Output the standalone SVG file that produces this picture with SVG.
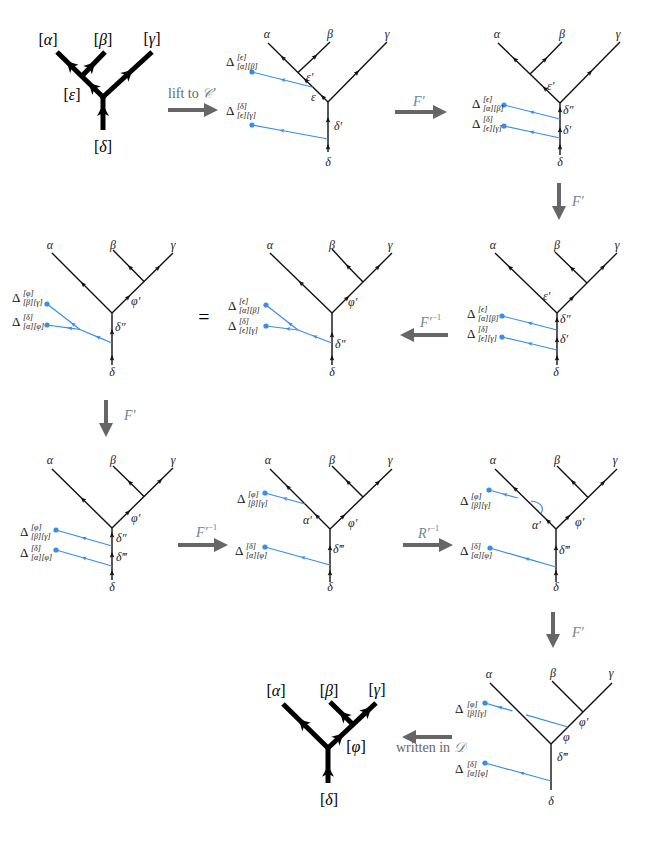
<svg xmlns="http://www.w3.org/2000/svg" width="665" height="856" viewBox="0 0 665 856">
<style>
.k{fill:none;stroke:#111;stroke-width:1.4}
.km{fill:none;stroke:#111;stroke-width:1.4;marker-mid:url(#ma)}
.kt{fill:none;stroke:#000;stroke-width:5;marker-mid:url(#mt)}
.b{fill:none;stroke:#3b8de6;stroke-width:1.2}
.bm{fill:none;stroke:#3b8de6;stroke-width:1.2;marker-mid:url(#mb)}
.dot{fill:#3b8de6}
.g{font-family:'Liberation Serif','DejaVu Serif',serif;font-style:italic;font-size:12px;fill:#222}
.c{text-anchor:middle}
.tl{font-family:'Liberation Serif','DejaVu Serif',serif;font-size:16px;text-anchor:middle;fill:#000}
.tl tspan{font-style:italic}
.d{font-family:'Liberation Serif','DejaVu Serif',serif;font-size:13px;fill:#111}
.s{font-size:8px;font-style:italic}
.ar{fill:#666}
.lab{font-family:'Liberation Serif','DejaVu Serif',serif;font-size:14px;fill:#6b8796;font-style:italic}
.gray{fill:#666;font-style:normal}
.sup{font-size:9px;font-style:normal}
</style>
<defs>
<marker id="ma" viewBox="-4 -4 8 8" markerWidth="8" markerHeight="8" markerUnits="userSpaceOnUse" orient="auto" refX="0" refY="0"><path d="M3,0 L-2.5,-2.3 L-1.5,0 L-2.5,2.3 Z" fill="#111"/></marker>
<marker id="mb" viewBox="-4 -4 8 8" markerWidth="8" markerHeight="8" markerUnits="userSpaceOnUse" orient="auto" refX="0" refY="0"><path d="M2.5,0 L-2.2,-2 L-1.3,0 L-2.2,2 Z" fill="#3b8de6"/></marker>
<marker id="mt" viewBox="-8 -8 16 16" markerWidth="16" markerHeight="16" markerUnits="userSpaceOnUse" orient="auto" refX="0" refY="0"><path d="M6,0 L-5,-6 L-2,0 L-5,6 Z" fill="#000"/></marker>
</defs>
<rect width="665" height="856" fill="#fff"/>

<g id="connectors">
<path class="ar" d="M168,108 L204,108 L204,103 L218,110 L204,117 L204,112 L168,112 Z"/>
<text class="lab" x="168" y="98"><tspan class="gray">lift to </tspan>𝒞′</text>
<path class="ar" d="M395,110 L433,110 L433,105 L447,112 L433,119 L433,114 L395,114 Z"/>
<text class="lab" x="413" y="106">F′</text>
<path class="ar" d="M557,183 L557,206 L552,206 L559,220 L566,206 L561,206 L561,183 Z"/>
<text class="lab" x="572" y="206">F′</text>
<path class="ar" d="M448,333 L414,333 L414,328 L400,335 L414,342 L414,337 L448,337 Z"/>
<text class="lab" x="420" y="327">F′<tspan class="sup" dy="-7">−1</tspan></text>
<path class="ar" d="M104,400 L104,423 L99,423 L106,437 L113,423 L108,423 L108,400 Z"/>
<text class="lab" x="124" y="420">F′</text>
<path class="ar" d="M178,543 L214,543 L214,538 L228,545 L214,552 L214,547 L178,547 Z"/>
<text class="lab" x="196" y="537">F′<tspan class="sup" dy="-7">−1</tspan></text>
<path class="ar" d="M403,543 L439,543 L439,538 L453,545 L439,552 L439,547 L403,547 Z"/>
<text class="lab" x="418" y="538">R′<tspan class="sup" dy="-7">−1</tspan></text>
<path class="ar" d="M551,612 L551,634 L546,634 L553,648 L560,634 L555,634 L555,612 Z"/>
<text class="lab" x="572" y="637">F′</text>
<path class="ar" d="M452,735 L416,735 L416,730 L402,737 L416,744 L416,739 L452,739 Z"/>
<text class="lab" x="396" y="752"><tspan class="gray">written in </tspan>𝒟</text>
<text class="tl" x="204" y="324" style="font-size:20px">=</text>
</g>

<g id="panel1">
<path class="kt" d="M103,97 L93,87.2 L70.8,65.5 L57,52"/>
<path class="kt" d="M82,76 L91,66.6 L105,52"/>
<path class="kt" d="M103,97 L128,74 L152,52"/>
<path class="kt" d="M103,130 L103,111 L103,97"/>
<circle cx="103" cy="97" r="2.5"/>
<text class="tl" x="48" y="45">[<tspan>α</tspan>]</text>
<text class="tl" x="103" y="45">[<tspan>β</tspan>]</text>
<text class="tl" x="152" y="44">[<tspan>γ</tspan>]</text>
<text class="tl" x="72" y="100">[<tspan>ε</tspan>]</text>
<text class="tl" x="103" y="152">[<tspan>δ</tspan>]</text>
</g>

<g id="panel2">
<path class="km" d="M328,102 L323,97.1 L306,80.4 L283,57.8 L268,43"/>
<path class="km" d="M298,72.5 L315,56.5 L330,42"/>
<path class="km" d="M328,102 L357,72.5 L387,42"/>
<path class="km" d="M328,152 L328,147 L328,120 L328,102"/>
<path class="bm" d="M313,87.25 L283,79.75 L252,72"/>
<path class="bm" d="M328,139 L282,130.5 L252,125"/>
<circle class="dot" cx="252" cy="72" r="2.6"/>
<circle class="dot" cx="252" cy="125" r="2.6"/>
<text class="g c" x="267" y="38">α</text>
<text class="g c" x="330" y="38">β</text>
<text class="g c" x="387" y="38">γ</text>
<text class="g" x="306" y="81">ε′</text>
<text class="g" x="311" y="101">ε</text>
<text class="g" x="334" y="130">δ′</text>
<text class="g c" x="328" y="166">δ</text>
<text class="d" x="226" y="66">Δ<tspan class="s" x="237" y="59.5">[ϵ]</tspan><tspan class="s" x="237" y="69">[α][β]</tspan></text>
<text class="d" x="226" y="115">Δ<tspan class="s" x="237" y="108.5">[δ]</tspan><tspan class="s" x="237" y="118">[ϵ][γ]</tspan></text>
</g>

<g id="panel3">
<path class="km" d="M560,103 L545,88.5 L515,59.4 L498,43"/>
<path class="km" d="M530,74 L545,59.5 L562,42"/>
<path class="km" d="M560,103 L590,72.5 L620,42"/>
<path class="km" d="M560,155 L560,147 L560,130 L560,110 L560,103"/>
<path class="bm" d="M560,119 L532,112 L504,105"/>
<path class="bm" d="M560,138 L532,132 L504,126"/>
<circle class="dot" cx="504" cy="105" r="2.6"/>
<circle class="dot" cx="504" cy="126" r="2.6"/>
<text class="g c" x="497" y="38">α</text>
<text class="g c" x="562" y="38">β</text>
<text class="g c" x="618" y="38">γ</text>
<text class="g" x="547" y="90">ε′</text>
<text class="g" x="563" y="114">δ″</text>
<text class="g" x="563" y="134">δ′</text>
<text class="g c" x="560" y="166">δ</text>
<text class="d" x="472" y="108">Δ<tspan class="s" x="483" y="101.5">[ϵ]</tspan><tspan class="s" x="483" y="111">[α][β]</tspan></text>
<text class="d" x="472" y="128">Δ<tspan class="s" x="483" y="121.5">[δ]</tspan><tspan class="s" x="483" y="131">[ϵ][γ]</tspan></text>
</g>

<g id="panel4">
<path class="km" d="M112,313 L83,284 L52,253"/>
<path class="km" d="M144,281.5 L130,267.3 L113,250"/>
<path class="km" d="M112,313 L128,297.3 L158,267.8 L173,253"/>
<path class="km" d="M112,365 L112,358 L112,332 L112,313"/>
<path class="bm" d="M80,329.5 L73,324.1 L47,304"/>
<path class="bm" d="M80,329.5 L70,328.1 L47,325"/>
<path class="bm" d="M112,343 L98,337.1 L80,329.5"/>
<circle class="dot" cx="47" cy="304" r="2.6"/>
<circle class="dot" cx="47" cy="325" r="2.6"/>
<text class="g c" x="50" y="249">α</text>
<text class="g c" x="113" y="249">β</text>
<text class="g c" x="173" y="249">γ</text>
<text class="g" x="131" y="305">φ′</text>
<text class="g" x="115" y="331">δ″</text>
<text class="g c" x="112" y="376">δ</text>
<text class="d" x="12" y="302">Δ<tspan class="s" x="23" y="295.5">[φ]</tspan><tspan class="s" x="23" y="305">[β][γ]</tspan></text>
<text class="d" x="12" y="326">Δ<tspan class="s" x="23" y="319.5">[δ]</tspan><tspan class="s" x="23" y="329">[α][φ]</tspan></text>
</g>

<g id="panel5">
<path class="km" d="M332,313 L301,283 L270,253"/>
<path class="km" d="M363,282 L348,266.5 L332,249"/>
<path class="km" d="M332,313 L347,298 L378,267 L392,253"/>
<path class="km" d="M332,365 L332,358 L332,335 L332,313"/>
<path class="bm" d="M298,330 L290,323.75 L266,305"/>
<path class="bm" d="M298,330 L288,328.75 L266,326"/>
<path class="bm" d="M332,343 L315,336.5 L298,330"/>
<circle class="dot" cx="266" cy="305" r="2.6"/>
<circle class="dot" cx="266" cy="326" r="2.6"/>
<text class="g c" x="270" y="249">α</text>
<text class="g c" x="332" y="249">β</text>
<text class="g c" x="390" y="249">γ</text>
<text class="g" x="348" y="306">φ′</text>
<text class="g" x="335" y="348">δ″</text>
<text class="g c" x="332" y="376">δ</text>
<text class="d" x="228" y="310">Δ<tspan class="s" x="239" y="303.5">[ϵ]</tspan><tspan class="s" x="239" y="313">[α][β]</tspan></text>
<text class="d" x="228" y="330">Δ<tspan class="s" x="239" y="323.5">[δ]</tspan><tspan class="s" x="239" y="333">[ϵ][γ]</tspan></text>
</g>

<g id="panel6">
<path class="km" d="M557,313 L510,267.5 L495,253"/>
<path class="km" d="M587,283 L572,268.5 L555,252"/>
<path class="km" d="M557,313 L572,298 L603,267 L617,253"/>
<path class="km" d="M557,365 L557,358 L557,340 L557,320 L557,313"/>
<path class="bm" d="M557,330 L530,323 L502,316"/>
<path class="bm" d="M557,350 L530,343.5 L502,337"/>
<circle class="dot" cx="502" cy="316" r="2.6"/>
<circle class="dot" cx="502" cy="337" r="2.6"/>
<text class="g c" x="493" y="249">α</text>
<text class="g c" x="557" y="249">β</text>
<text class="g c" x="617" y="249">γ</text>
<text class="g" x="543" y="300">ε′</text>
<text class="g" x="560" y="323">δ″</text>
<text class="g" x="560" y="343">δ′</text>
<text class="g c" x="556" y="376">δ</text>
<text class="d" x="467" y="318">Δ<tspan class="s" x="478" y="311.5">[ϵ]</tspan><tspan class="s" x="478" y="321">[α][β]</tspan></text>
<text class="d" x="467" y="338">Δ<tspan class="s" x="478" y="331.5">[δ]</tspan><tspan class="s" x="478" y="341">[ϵ][γ]</tspan></text>
</g>

<g id="panel7">
<path class="km" d="M112,528 L83,499.5 L52,469"/>
<path class="km" d="M144,496.5 L130,482.5 L113,466"/>
<path class="km" d="M112,528 L128,512.3 L160,480.8 L173,468"/>
<path class="km" d="M112,580 L112,573 L112,555 L112,535 L112,528"/>
<path class="bm" d="M112,546 L84,538 L56,530"/>
<path class="bm" d="M112,566 L84,558 L56,550"/>
<circle class="dot" cx="56" cy="530" r="2.6"/>
<circle class="dot" cx="56" cy="550" r="2.6"/>
<text class="g c" x="50" y="464">α</text>
<text class="g c" x="113" y="464">β</text>
<text class="g c" x="173" y="464">γ</text>
<text class="g" x="131" y="522">φ′</text>
<text class="g" x="116" y="542">δ″</text>
<text class="g" x="116" y="561">δ‴</text>
<text class="g c" x="112" y="591">δ</text>
<text class="d" x="20" y="536">Δ<tspan class="s" x="31" y="529.5">[φ]</tspan><tspan class="s" x="31" y="539">[β][γ]</tspan></text>
<text class="d" x="20" y="557">Δ<tspan class="s" x="31" y="550.5">[δ]</tspan><tspan class="s" x="31" y="560">[α][φ]</tspan></text>
</g>

<g id="panel8">
<path class="km" d="M330,529 L317,516 L288,487 L270,469"/>
<path class="km" d="M363,497 L348,482 L332,466"/>
<path class="km" d="M330,529 L343,516.4 L378,482.5 L392,469"/>
<path class="km" d="M330,582 L330,573 L330,548 L330,529"/>
<path class="bm" d="M305,504 L285,498.5 L265,493"/>
<path class="bm" d="M330,565 L303,557.5 L265,547"/>
<circle class="dot" cx="265" cy="493" r="2.6"/>
<circle class="dot" cx="265" cy="547" r="2.6"/>
<text class="g c" x="268" y="464">α</text>
<text class="g c" x="332" y="464">β</text>
<text class="g c" x="390" y="464">γ</text>
<text class="g" x="303" y="524">α′</text>
<text class="g" x="348" y="527">φ′</text>
<text class="g" x="333" y="553">δ‴</text>
<text class="g c" x="330" y="591">δ</text>
<text class="d" x="237" y="503">Δ<tspan class="s" x="248" y="496.5">[φ]</tspan><tspan class="s" x="248" y="506">[β][γ]</tspan></text>
<text class="d" x="235" y="555">Δ<tspan class="s" x="246" y="548.5">[δ]</tspan><tspan class="s" x="246" y="558">[α][φ]</tspan></text>
</g>

<g id="panel9">
<path class="km" d="M556,529 L548,521 L515,488.7 L495,469"/>
<path class="km" d="M588,497.5 L573,482 L557,466"/>
<path class="km" d="M556,529 L568,517.2 L603,482.8 L617,469"/>
<path class="km" d="M556,582 L556,573 L556,548 L556,529"/>
<path class="bm" d="M518,498 L505,494.5 L489,490"/>
<path class="b" d="M531,501 C540,502 545,507 541,513.5"/>
<path class="bm" d="M556,567 L527,558.7 L490,548"/>
<circle class="dot" cx="489" cy="490" r="2.6"/>
<circle class="dot" cx="490" cy="548" r="2.6"/>
<text class="g c" x="493" y="464">α</text>
<text class="g c" x="557" y="464">β</text>
<text class="g c" x="615" y="464">γ</text>
<text class="g" x="532" y="529">α′</text>
<text class="g" x="575" y="526">φ′</text>
<text class="g" x="559" y="554">δ‴</text>
<text class="g c" x="556" y="591">δ</text>
<text class="d" x="460" y="505">Δ<tspan class="s" x="471" y="498.5">[φ]</tspan><tspan class="s" x="471" y="508">[β][γ]</tspan></text>
<text class="d" x="460" y="555">Δ<tspan class="s" x="471" y="548.5">[δ]</tspan><tspan class="s" x="471" y="558">[α][φ]</tspan></text>
</g>

<g id="panel10">
<path class="k" d="M551,744 L490,683"/>
<path class="k" d="M583,712 L552,681"/>
<path class="k" d="M551,744 L612,683"/>
<path class="k" d="M551,790 L551,744"/>
<path class="bm" d="M512.5,710.9 L500,707.3 L485,703"/>
<path class="b" d="M526,714.9 L568,727"/>
<path class="bm" d="M551,781 L522,773 L485,763"/>
<circle class="dot" cx="485" cy="703" r="2.6"/>
<circle class="dot" cx="485" cy="763" r="2.6"/>
<text class="g c" x="489" y="678">α</text>
<text class="g c" x="553" y="677">β</text>
<text class="g c" x="611" y="677">γ</text>
<text class="g" x="579" y="726">φ′</text>
<text class="g" x="563" y="741">φ</text>
<text class="g" x="557" y="761">δ‴</text>
<text class="g c" x="551" y="805">δ</text>
<text class="d" x="455" y="713">Δ<tspan class="s" x="467" y="706.5">[φ]</tspan><tspan class="s" x="467" y="716">[β][γ]</tspan></text>
<text class="d" x="455" y="773">Δ<tspan class="s" x="467" y="766.5">[δ]</tspan><tspan class="s" x="467" y="776">[α][φ]</tspan></text>
</g>

<g id="panel11">
<path class="kt" d="M328,748 L303,723.5 L283,704"/>
<path class="kt" d="M353,724.5 L344,715.7 L330,702"/>
<path class="kt" d="M328,748 L339,737.7 L367,711.4 L376,703"/>
<path class="kt" d="M328,783 L328,771.7 L328,748"/>
<circle cx="328" cy="748" r="2.5"/>
<text class="tl" x="276" y="696">[<tspan>α</tspan>]</text>
<text class="tl" x="329" y="696">[<tspan>β</tspan>]</text>
<text class="tl" x="377" y="695">[<tspan>γ</tspan>]</text>
<text class="tl" x="356" y="752">[<tspan>φ</tspan>]</text>
<text class="tl" x="329" y="805">[<tspan>δ</tspan>]</text>
</g>
</svg>
